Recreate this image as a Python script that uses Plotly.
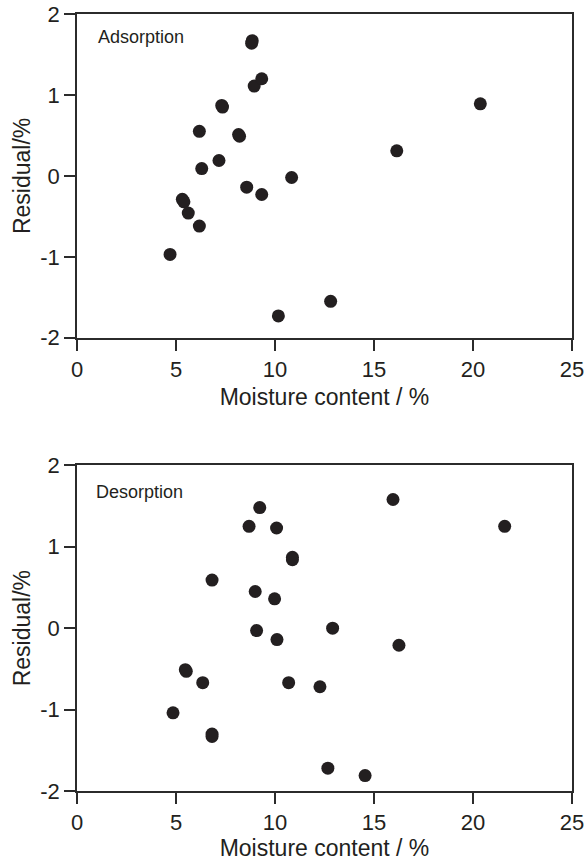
import plotly.graph_objects as go
from plotly.subplots import make_subplots

# Adsorption residuals (moisture content %, residual %)
ads_x = [8.85, 8.82, 8.95, 9.33, 7.31, 7.35, 6.18, 8.16, 8.21, 7.17, 6.30, 10.84, 8.57, 9.33, 5.32, 5.40, 5.62, 6.18, 4.70, 10.17, 20.37, 16.15, 12.81]
ads_y = [1.67, 1.64, 1.11, 1.20, 0.87, 0.85, 0.55, 0.51, 0.49, 0.19, 0.09, -0.02, -0.14, -0.23, -0.29, -0.32, -0.46, -0.62, -0.97, -1.73, 0.89, 0.31, -1.55]

# Desorption residuals
des_x = [9.23, 8.69, 10.08, 10.88, 10.88, 6.82, 9.00, 9.98, 9.07, 10.10, 5.47, 5.52, 6.35, 10.69, 4.85, 6.82, 6.82, 15.96, 21.60, 12.91, 16.26, 12.27, 12.67, 14.55]
des_y = [1.48, 1.25, 1.23, 0.87, 0.84, 0.59, 0.45, 0.36, -0.03, -0.14, -0.51, -0.53, -0.67, -0.67, -1.04, -1.30, -1.33, 1.58, 1.25, 0.00, -0.21, -0.72, -1.72, -1.81]

x_ticks = [0, 5, 10, 15, 20, 25]
y_ticks = [-2, -1, 0, 1, 2]
panel_labels = ["Adsorption", "Desorption"]
x_title = "Moisture content / %"
y_title = "Residual/%"

FONT = "Arial, Liberation Sans, Helvetica, sans-serif"
INK = "#231f20"
AX = "#2b2b2b"

fig = make_subplots(rows=2, cols=1, vertical_spacing=0.164)

marker = dict(size=13, color=INK, line=dict(width=0))
fig.add_trace(go.Scatter(x=ads_x, y=ads_y, mode="markers", marker=marker,
                         name=panel_labels[0], showlegend=False), row=1, col=1)
fig.add_trace(go.Scatter(x=des_x, y=des_y, mode="markers", marker=marker,
                         name=panel_labels[1], showlegend=False), row=2, col=1)

axis_common = dict(
    showline=True, linecolor=AX, linewidth=1.5, mirror=True,
    showgrid=False, zeroline=False, automargin=False,
    ticks="outside", ticklen=11, tickwidth=1.5, tickcolor=AX,
    tickfont=dict(family=FONT, size=22, color=INK),
)

for r in (1, 2):
    fig.update_xaxes(range=[0, 25], tickvals=x_ticks, ticktext=[str(v) for v in x_ticks],
                     title=dict(text=x_title, font=dict(family=FONT, size=23, color=INK), standoff=8),
                     row=r, col=1, **axis_common)
    fig.update_yaxes(range=[-2, 2], tickvals=y_ticks, ticktext=[str(v) for v in y_ticks],
                     title=dict(text=y_title, font=dict(family=FONT, size=23, color=INK), standoff=3),
                     row=r, col=1, **axis_common)

fig.update_layout(
    xaxis=dict(domain=[0, 1]),
    yaxis=dict(domain=[0.5833, 1.0]),
    yaxis2=dict(domain=[0.0, 0.4192]),
)

fig.add_annotation(text=panel_labels[0], xref="x domain", yref="y domain",
                   x=0.038, y=0.929, xanchor="left", yanchor="middle", showarrow=False,
                   font=dict(family=FONT, size=18, color=INK))
fig.add_annotation(text=panel_labels[1], xref="x2 domain", yref="y2 domain",
                   x=0.034, y=0.918, xanchor="left", yanchor="middle", showarrow=False,
                   font=dict(family=FONT, size=18, color=INK))

fig.update_layout(
    width=587, height=861,
    margin=dict(l=77, r=15, t=14, b=70, autoexpand=False),
    paper_bgcolor="white", plot_bgcolor="white",
    font=dict(family=FONT, color=INK),
)

fig.write_html("out.html", config={"displayModeBar": False},
               post_script="document.body.style.margin='0';document.body.style.overflow='hidden';")
